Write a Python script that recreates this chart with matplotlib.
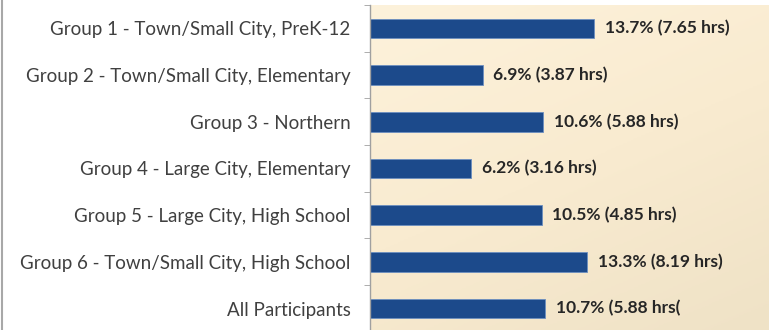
import matplotlib
matplotlib.use("Agg")
import matplotlib.pyplot as plt
import numpy as np
from matplotlib.colors import LinearSegmentedColormap

categories = [
    "Group 1 - Town/Small City, PreK-12",
    "Group 2 - Town/Small City, Elementary",
    "Group 3 - Northern",
    "Group 4 - Large City, Elementary",
    "Group 5 - Large City, High School",
    "Group 6 - Town/Small City, High School",
    "All Participants",
]
percent = [13.7, 6.9, 10.6, 6.2, 10.5, 13.3, 10.7]
value_labels = [
    "13.7% (7.65 hrs)",
    "6.9% (3.87 hrs)",
    "10.6% (5.88 hrs)",
    "6.2% (3.16 hrs)",
    "10.5% (4.85 hrs)",
    "13.3% (8.19 hrs)",
    "10.7% (5.88 hrs(",
]

W, H = 769, 330
fig = plt.figure(figsize=(W / 100, H / 100), dpi=100)
fig.patch.set_facecolor("white")

left_px, top_px = 370, 5
ax = fig.add_axes([left_px / W, 0, (W - left_px) / W, (H - top_px) / H])

y = np.arange(len(categories))
xmax = (W - left_px) / 16.35
ax.set_xlim(0, xmax)
ax.set_ylim(6.46, -0.5)

# gradient background
cmap = LinearSegmentedColormap.from_list("bg", ["#FDF2DB", "#F9EBD0", "#EFE2C6"])
gx, gy = np.meshgrid(np.linspace(0, 1, 200), np.linspace(0, 1, 200))
grad = 0.35 * gx + 0.65 * gy
ax.imshow(grad, cmap=cmap, extent=[0, xmax, 6.46, -0.5], aspect="auto", zorder=0, vmin=0, vmax=1)

ax.barh(y, percent, height=0.42, color="#1C4A8B", edgecolor="#6C8FC0", linewidth=0.6, zorder=2)

for yi, p, lab in zip(y, percent, value_labels):
    ax.text(p + 0.65, yi, lab, va="center", ha="left", fontsize=12.5, fontweight="bold",
            color="#262626", family="Lato", zorder=3)

ax.set_yticks(y)
ax.set_yticklabels(categories, fontsize=13.5, color="#404040", family="Lato")
ax.set_yticks(np.arange(-0.5, 6.5, 1.0), minor=True)
ax.tick_params(axis="y", which="major", length=0, pad=14)
ax.tick_params(axis="y", which="minor", length=4, color="#A0A0A0", direction="out")
ax.set_xticks([])
for s in ["top", "right", "bottom"]:
    ax.spines[s].set_visible(False)
ax.spines["left"].set_color("#A0A0A0")
ax.spines["left"].set_linewidth(1.0)

# left gray border line of the image
fig.add_artist(plt.Line2D([1.5 / W, 1.5 / W], [0, 1], color="#A8A8A8", linewidth=1.5, transform=fig.transFigure))

fig.savefig("out.png", dpi=100, facecolor="white")
